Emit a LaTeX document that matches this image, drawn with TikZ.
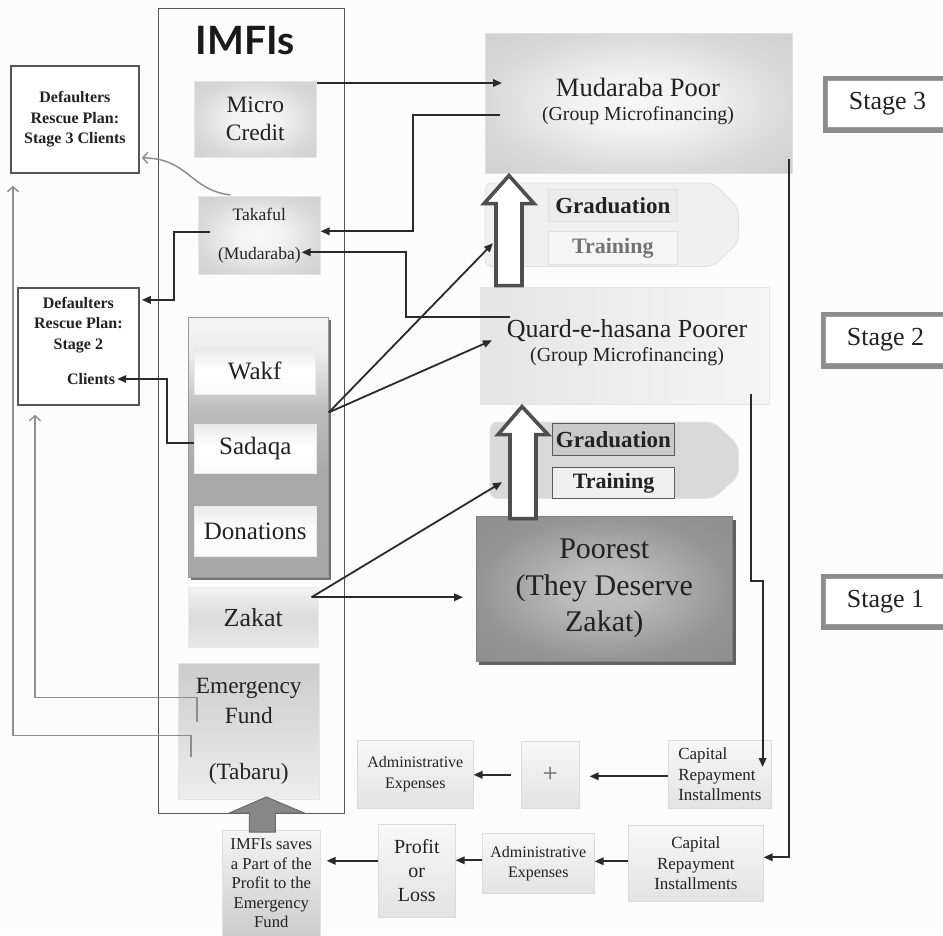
\documentclass[tikz,border=0pt]{standalone}
\usepackage{fontspec}
\setmainfont{Liberation Serif}
\newfontfamily\titlefont{Lato}
\usetikzlibrary{arrows.meta}
\newcommand\fsz[2]{\fontsize{#1}{#2}\selectfont}

\definecolor{ink}{HTML}{222222}
\definecolor{bgc}{HTML}{FCFCFC}
\definecolor{wire}{HTML}{2A2A2A}
\definecolor{greywire}{HTML}{8E8E8E}
\definecolor{frame}{HTML}{555555}
\definecolor{stagegrey}{HTML}{8C8C8C}
\definecolor{hollow}{HTML}{4E4E4E}

% soft radial glow for the light boxes
\pgfdeclareradialshading{softbox}{\pgfpoint{0bp}{0bp}}{rgb(0bp)=(0.97,0.97,0.97); rgb(10bp)=(0.95,0.95,0.95); rgb(25bp)=(0.85,0.85,0.85); rgb(40bp)=(0.80,0.80,0.80)}
% darker glow for the Poorest box
\pgfdeclareradialshading{poorglow}{\pgfpoint{0bp}{0bp}}{rgb(0bp)=(0.76,0.76,0.76); rgb(8bp)=(0.73,0.73,0.73); rgb(25bp)=(0.58,0.58,0.58); rgb(40bp)=(0.55,0.55,0.55)}
% fund group: light at the top, grey below
\pgfdeclareverticalshading{grpshade}{100bp}{rgb(0bp)=(0.65,0.65,0.65); rgb(45bp)=(0.66,0.66,0.66); rgb(57bp)=(0.74,0.74,0.74); rgb(68bp)=(0.93,0.93,0.93); rgb(75bp)=(0.96,0.96,0.96); rgb(100bp)=(0.96,0.96,0.96)}

\begin{document}
\begin{tikzpicture}[x=1pt,y=-1pt,
  cell/.style={inner sep=0pt, anchor=north west, align=center, text=ink},
  lightbox/.style={cell, shading=softbox, draw=black!10, line width=0.6pt},
  palebox/.style={cell, top color=black!3, bottom color=black!11, draw=black!14, line width=0.6pt},
  fundbox/.style={cell, top color=black!8, bottom color=black!2, middle color=white, draw=black!8, line width=0.5pt},
  defbox/.style={cell, draw=frame, line width=1.8pt, fill=white},
  deftext/.style={inner sep=0pt, align=center, text=ink, font=\fsz{16}{20.5}\bfseries},
  stagebox/.style={cell, draw=stagegrey, line width=5pt, fill=white, font=\fsz{26}{30}},
  stageinner/.style={draw=stagegrey!85, line width=1.2pt},
  arr/.style={draw=wire, line width=1.8pt, -{Triangle[length=9pt,width=7.5pt]}},
  garr/.style={draw=greywire, line width=1.5pt, -{Straight Barb[length=5pt,width=11pt,line width=1.4pt]}},
  hollowarrow/.style={draw=hollow, line width=3.6pt, line join=miter, fill=white},
]
\clip (0,0) rectangle (943,935);
\fill[bgc] (0,0) rectangle (943,935);

% ---------- IMFIs column ----------
\node[cell, draw=frame, line width=1.3pt, minimum width=186pt, minimum height=805pt] (imfis) at (158,8) {};
\node[inner sep=0pt, text=black!90, font=\titlefont\bfseries\fsz{39}{40}] (imfistitle) at (245,41) {IMFIs};

\node[lightbox, minimum width=122pt, minimum height=76pt, font=\fsz{23.5}{28}] (mcredit) at (194,81) {Micro\\Credit};
\node[lightbox, minimum width=122pt, minimum height=78pt, font=\fsz{17.5}{39}] (takaful) at (198,196) {Takaful\\(Mudaraba)};

% fund group with its shadow
\fill[black!55] (191,320) rectangle (331,580);
\node[cell, shading=grpshade, draw=black!40, line width=0.8pt, minimum width=140pt, minimum height=260pt] (grp) at (188,317) {};
\node[fundbox, minimum width=121pt, minimum height=47pt, font=\fsz{25}{28}] (wakf) at (194,347) {Wakf};
\node[fundbox, minimum width=122pt, minimum height=49pt, font=\fsz{25}{28}] (sadaqa) at (194,424) {Sadaqa};
\node[fundbox, minimum width=122pt, minimum height=50pt, font=\fsz{25}{28}] (donations) at (194,506) {Donations};

\node[cell, top color=black!5, bottom color=black!9, middle color=black!14, draw=black!8, line width=0.5pt, minimum width=130pt, minimum height=60pt, font=\fsz{26}{30}] (zakat) at (188,587) {Zakat};
\node[cell, top color=black!20, bottom color=black!7, draw=black!10, line width=0.5pt, minimum width=141pt, minimum height=136pt, font=\fsz{23.3}{30}] (emerg) at (178,663) {Emergency\\Fund\\[26pt](Tabaru)};

% ---------- rescue plans ----------
\node[defbox, minimum width=128pt, minimum height=107pt, font=\fsz{16}{20.5}\bfseries] (def3) at (10,65) {Defaulters\\Rescue Plan:\\Stage 3 Clients};
\node[defbox, minimum width=121pt, minimum height=117pt] (def2) at (17,287) {};
\node[deftext, anchor=north] (def2t) at ([yshift=-10pt]def2.north) {Defaulters\\Rescue Plan:\\Stage 2};
\node[deftext] (clients) at (91,379) {Clients};

% ---------- stages of the poor ----------
\node[cell, shading=softbox, draw=black!12, line width=0.6pt, minimum width=307pt, minimum height=140pt] (mudpoor) at (485,33) {};
\node[inner sep=0pt, align=center, text=ink, font=\fsz{19.8}{24}] (mudtext) at (638,101) {{\fsz{26.5}{24}Mudaraba Poor}\\(Group Microfinancing)};

\node[cell, left color=black!10, right color=black!4, draw=black!10, line width=0.6pt, minimum width=289pt, minimum height=117pt] (quard) at (480,287) {};
\node[inner sep=0pt, align=center, text=ink, font=\fsz{20}{24}] (quardtext) at (627,343) {{\fsz{26}{24}Quard-e-hasana Poorer}\\(Group Microfinancing)};

\fill[black!62] (479,520) rectangle (736,665);
\node[cell, shading=poorglow, draw=black!50, line width=0.6pt, minimum width=256pt, minimum height=145pt, font=\fsz{30}{36.5}] (poorest) at (476,516) {Poorest\\(They Deserve\\Zakat)};

% graduation bands
\node[cell, minimum width=253pt, minimum height=83pt] (band3) at (485,183) {};
\filldraw[fill=black!6, draw=black!12, line width=0.8pt, rounded corners=7pt]
  (band3.north west) -- ([xshift=-25pt]band3.north east) -- ([yshift=-25pt]band3.north east)
  -- ([yshift=24pt]band3.south east) -- ([xshift=-25pt]band3.south east) -- (band3.south west) -- cycle;
\node[cell, fill=black!8, draw=black!12, line width=0.6pt, minimum width=129pt, minimum height=32pt, font=\fsz{23}{26}\bfseries] (grad3) at (548,189) {Graduation};
\node[cell, fill=black!4, draw=black!12, line width=0.6pt, minimum width=129pt, minimum height=33pt, text=black!55, font=\fsz{22}{26}\bfseries] (train3) at (548,231) {Training};

\node[cell, minimum width=248pt, minimum height=76pt] (band2) at (490,422) {};
\filldraw[fill=black!15, draw=black!10, line width=0.8pt, rounded corners=7pt]
  (band2.north west) -- ([xshift=-25pt]band2.north east) -- ([yshift=-23pt]band2.north east)
  -- ([yshift=22pt]band2.south east) -- ([xshift=-25pt]band2.south east) -- (band2.south west) -- cycle;
\node[cell, fill=black!21, draw=black!65, line width=1pt, minimum width=122pt, minimum height=32pt, font=\fsz{23}{26}\bfseries] (grad2) at (552,423) {Graduation};
\node[cell, fill=black!6, draw=black!65, line width=1pt, minimum width=122pt, minimum height=31pt, font=\fsz{22}{26}\bfseries] (train2) at (552,467) {Training};

% hollow graduation arrows
\coordinate (up3) at ([xshift=24pt,yshift=-2pt]mudpoor.south west);
\draw[hollowarrow] (up3) -- ++(25,28) -- ++(-12,0) -- ++(0,82) -- ++(-26,0) -- ++(0,-82) -- ++(-12,0) -- cycle;
\coordinate (up2) at ([xshift=42pt,yshift=-2pt]quard.south west);
\draw[hollowarrow] (up2) -- ++(26,28) -- ++(-12,0) -- ++(0,84) -- ++(-26,0) -- ++(0,-84) -- ++(-12,0) -- cycle;

% stage labels
\node[stagebox, minimum width=125pt, minimum height=52pt] (stage3) at (822.5,75.5) {Stage 3};
\draw[stageinner] ([shift={(5pt,-5pt)}]stage3.north west) rectangle ([shift={(-5pt,5pt)}]stage3.south east);
\node[stagebox, minimum width=125pt, minimum height=52pt] (stage2) at (820.5,311.5) {Stage 2};
\draw[stageinner] ([shift={(5pt,-5pt)}]stage2.north west) rectangle ([shift={(-5pt,5pt)}]stage2.south east);
\node[stagebox, minimum width=125pt, minimum height=51pt] (stage1) at (820.5,573.5) {Stage 1};
\draw[stageinner] ([shift={(5pt,-5pt)}]stage1.north west) rectangle ([shift={(-5pt,5pt)}]stage1.south east);

% ---------- repayment flow ----------
\node[palebox, minimum width=103pt, minimum height=68pt, align=left, font=\fsz{17}{20.5}] (capT) at (668,740) {Capital\\Repayment\\Installments};
\node[palebox, minimum width=58pt, minimum height=67pt, text=black!60, font=\fsz{27}{30}] (plus) at (521,741) {+};
\node[palebox, minimum width=116pt, minimum height=68pt, font=\fsz{16}{20.5}] (adminT) at (357,740) {Administrative\\Expenses};

\node[palebox, minimum width=135pt, minimum height=76pt, font=\fsz{17}{20.5}] (capB) at (628,825) {Capital\\Repayment\\Installments};
\node[palebox, minimum width=112pt, minimum height=60pt, font=\fsz{16}{20}] (adminB) at (482,833) {Administrative\\Expenses};
\node[palebox, minimum width=77pt, minimum height=93pt, font=\fsz{20}{24}] (profit) at (378,824) {Profit\\or\\Loss};
\node[cell, top color=black!4, bottom color=black!20, draw=black!12, line width=0.6pt, minimum width=98pt, minimum height=106pt, font=\fsz{16.6}{19.5}] (saves) at (222,830) {IMFIs saves\\a Part of the\\Profit to the\\Emergency\\Fund};

% filled arrow into the emergency fund
\coordinate (efTip) at ([xshift=-5pt,yshift=33pt]saves.north);
\filldraw[fill=black!47, draw=black!58, line width=1pt] (efTip) -- ++(38,16) -- ++(-29,0) -- ++(0,19) -- ++(-26,0) -- ++(0,-19) -- ++(-20,0) -- cycle;

% ---------- connectors ----------
\coordinate (mcOut) at ([yshift=-2pt]mcredit.north east);
\coordinate (mpIn) at ([xshift=17pt]mudpoor.west);
\draw[arr] (mcOut) -- (mcOut -| mpIn);

\draw[arr] ([shift={(15pt,-12pt)}]mudpoor.west) -- ++(-87,0) |- ([yshift=4pt]takaful.east);
\draw[arr] ([shift={(30pt,28.5pt)}]quard.west) -- ++(-104,0) |- ([shift={(-19pt,-17pt)}]takaful.east);
\draw[arr] ([shift={(12pt,3pt)}]takaful.west) -- ++(-36,0) |- ([shift={(2pt,46.5pt)}]def2.east);

\draw[garr] ([xshift=-29pt,yshift=1pt]takaful.north) .. controls (190,190) and (188,158) .. ([shift={(2pt,-38.5pt)}]def3.east);
\draw[garr] ([shift={(13pt,-26pt)}]emerg.west) -- ++(0,-22) -| ([shift={(3pt,-12pt)}]def3.south west);
\draw[garr] ([shift={(19pt,9pt)}]emerg.west) -- ++(0,-25) -| ([shift={(18pt,-9pt)}]def2.south west);

\draw[arr] ([yshift=5.5pt]sadaqa.west) -- ++(-27,0) |- ([xshift=2pt]clients.east);

\coordinate (gOut) at ([yshift=35pt]grp.east);
\draw[arr] (gOut) -- ([shift={(8pt,-18.5pt)}]band3.west);
\draw[arr] (gOut) -- ([shift={(12pt,5.5pt)}]quard.west);

\coordinate (zOut) at ([shift={(-7pt,20pt)}]zakat.east);
\coordinate (pIn) at ([xshift=-13pt]poorest.west);
\draw[arr] (zOut) -- ([shift={(12pt,-22pt)}]band2.west);
\draw[arr] (zOut) -- (zOut -| pIn);

\draw[arr] ([shift={(-4pt,15pt)}]mudpoor.south east) |- ([yshift=6pt]capB.east);
\draw[arr] ([shift={(-19pt,11pt)}]quard.south east) -- ++(0,187) -| ([shift={(-9pt,-27pt)}]capT.north east);

\coordinate (ctOut) at ([yshift=-2pt]capT.west);
\draw[arr, shorten >=10pt] (ctOut) -- (ctOut -| plus.east);
\coordinate (plOut) at ([xshift=-10pt]plus.west);
\draw[arr] (plOut) -- (plOut -| adminT.east);

\coordinate (cbOut) at ([yshift=2pt]capB.west);
\draw[arr] (cbOut) -- (cbOut -| adminB.east);
\coordinate (abOut) at ([yshift=3pt]adminB.west);
\draw[arr] (abOut) -- (abOut -| profit.east);
\coordinate (prOut) at ([yshift=10pt]profit.west);
\draw[arr, shorten >=6pt] (prOut) -- (prOut -| saves.east);
\end{tikzpicture}
\end{document}
